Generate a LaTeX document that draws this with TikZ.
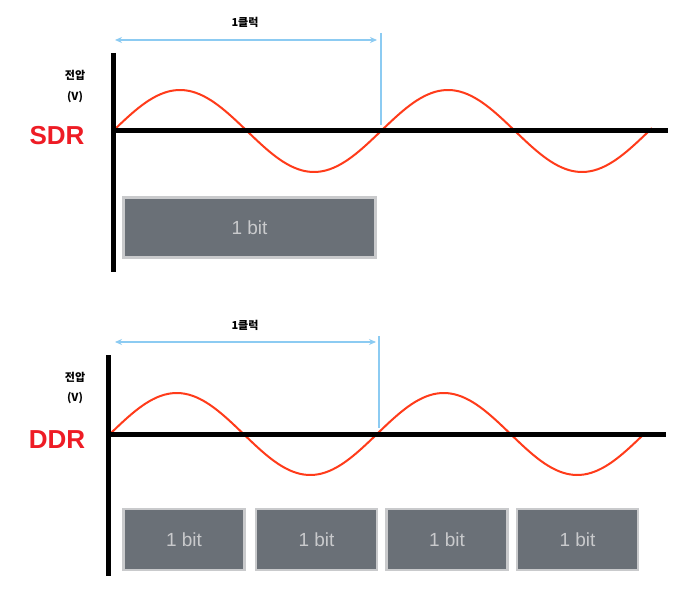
\documentclass[tikz,border=0pt]{standalone}
\usepackage{fontspec}
\setmainfont{Liberation Sans}
\newfontfamily\kr{Noto Sans CJK KR}
\usetikzlibrary{arrows.meta}
\definecolor{wave}{HTML}{FF3B1A}
\definecolor{clk}{HTML}{8CCBF2}
\definecolor{boxf}{HTML}{6A7077}
\definecolor{boxb}{HTML}{C9CACC}
\definecolor{lbl}{HTML}{EE1C25}
\tikzset{
 axis/.style={line width=5pt,black},
 sine/.style={wave,line width=2pt},
 clkarrow/.style={clk,line width=1.2pt,{Stealth[length=7pt,width=6pt]}-{Stealth[length=7pt,width=6pt]}},
 clkline/.style={clk,line width=1.2pt},
 bitbox/.style={fill=boxf,draw=boxb,line width=2.5pt,text=boxb,font=\fontsize{19}{19}\selectfont,inner sep=0pt},
 kor/.style={font=\kr\bfseries\fontsize{11}{13}\selectfont},
 big/.style={text=lbl,font=\bfseries\fontsize{26}{26}\selectfont}
}
\begin{document}
\begin{tikzpicture}[x=1pt,y=-1pt]
\useasboundingbox (0,0) rectangle (692,609);
\fill[white] (0,0) rectangle (692,609);
% SDR
\node[kor] (c1) at (245,22) {1클럭};
\coordinate (a1) at (115,40); \coordinate (b1) at (377,40);
\draw[clkarrow] (a1) -- (b1);
\coordinate (v1a) at (381,33); \coordinate (v1b) at (381,125);
\draw[clkline] (v1a) -- (v1b);
\node[kor] (u1) at (75,75) {전압};
\node[kor] (w1) at (75,97) {(V)};
\node[big] (s1) at (57,136) {SDR};
\draw[sine] plot[domain=0:539,samples=150] ({113+\x},{131-41*sin(1.3433*\x)});
\coordinate (h1a) at (111,131); \coordinate (h1b) at (668,131);
\draw[axis] (h1a) -- (h1b);
\coordinate (y1a) at (113,53); \coordinate (y1b) at (113,272);
\draw[axis] (y1a) -- (y1b);
\node[bitbox,minimum width=252pt,minimum height=60pt] (bit1) at (249.5,227.5) {1 bit};
% DDR
\node[kor] (c2) at (245,325) {1클럭};
\coordinate (a2) at (115,342); \coordinate (b2) at (376,342);
\draw[clkarrow] (a2) -- (b2);
\coordinate (v2a) at (379,336); \coordinate (v2b) at (379,428);
\draw[clkline] (v2a) -- (v2b);
\node[kor] (u2) at (75,377) {전압};
\node[kor] (w2) at (75,398) {(V)};
\node[big] (s2) at (57,440) {DDR};
\draw[sine] plot[domain=0:535,samples=150] ({110+\x},{434-41*sin(1.3483*\x)});
\coordinate (h2a) at (106,434); \coordinate (h2b) at (666,434);
\draw[axis] (h2a) -- (h2b);
\coordinate (y2a) at (108,355); \coordinate (y2b) at (108,576);
\draw[axis] (y2a) -- (y2b);
\foreach \n/\cx in {d1/184,d2/316.5,d3/447,d4/577.5}
  \node[bitbox,minimum width=121pt,minimum height=61pt] (\n) at (\cx,539.5) {1 bit};
\end{tikzpicture}
\end{document}
